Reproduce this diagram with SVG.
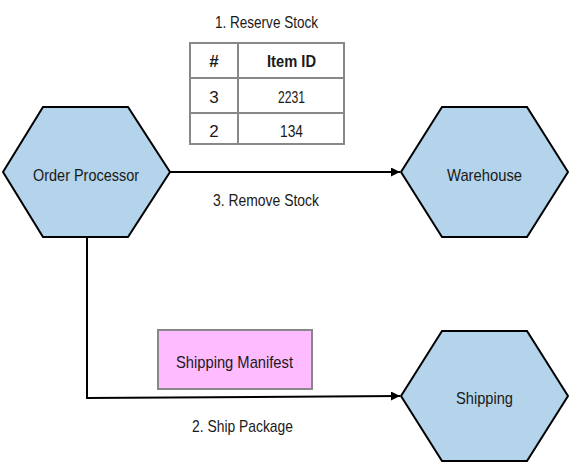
<svg xmlns="http://www.w3.org/2000/svg" width="571" height="463" viewBox="0 0 571 463">
<defs>
<style>
text{font-family:"Liberation Sans",Arial,sans-serif;font-size:17px;fill:#1a1a1a;text-anchor:middle}
.hex{fill:#b3d4ea;stroke:#000;stroke-width:2}
.conn{fill:none;stroke:#000;stroke-width:2}
.tbl{fill:#fff;stroke:#888;stroke-width:2}
.b{font-weight:bold}
</style>
<marker id="arr" viewBox="0 0 10 10" refX="10" refY="5" markerWidth="12" markerHeight="9" markerUnits="userSpaceOnUse" orient="auto">
<path d="M0,0 L10,5 L0,10 z" fill="#000"/>
</marker>
</defs>
<g id="connectors">
<path class="conn" d="M170,172 H400" marker-end="url(#arr)"/>
<path class="conn" d="M87,237 V398 L400,396" marker-end="url(#arr)"/>
<text x="266" y="206" textLength="106" lengthAdjust="spacingAndGlyphs">3. Remove Stock</text>
<text x="242.5" y="432" textLength="101" lengthAdjust="spacingAndGlyphs">2. Ship Package</text>
</g>
<g id="order-processor">
<polygon class="hex" points="3,172 43,107 128,107 170,172 128,237 43,237"/>
<text x="86" y="181" textLength="106" lengthAdjust="spacingAndGlyphs">Order Processor</text>
</g>
<g id="warehouse">
<polygon class="hex" points="401,172 442,107 527,107 568,172 527,237 442,237"/>
<text x="484.5" y="181" textLength="75" lengthAdjust="spacingAndGlyphs">Warehouse</text>
</g>
<g id="shipping">
<polygon class="hex" points="401,396 442,331 527,331 568,396 527,461 442,461"/>
<text x="484.5" y="404" textLength="57" lengthAdjust="spacingAndGlyphs">Shipping</text>
</g>
<g id="shipping-manifest">
<rect x="158" y="330" width="154" height="59" fill="#ffbbff" stroke="#888" stroke-width="2"/>
<text x="234.5" y="368" textLength="117" lengthAdjust="spacingAndGlyphs">Shipping Manifest</text>
</g>
<g id="reserve-stock-table">
<text x="266.5" y="28" textLength="103" lengthAdjust="spacingAndGlyphs">1. Reserve Stock</text>
<rect class="tbl" x="190" y="43" width="154" height="101"/>
<line x1="238" y1="43" x2="238" y2="144" stroke="#888" stroke-width="2"/>
<line x1="190" y1="78" x2="344" y2="78" stroke="#888" stroke-width="2"/>
<line x1="190" y1="113" x2="344" y2="113" stroke="#888" stroke-width="2"/>
<text class="b" x="214" y="67">#</text>
<text class="b" x="291.5" y="67" textLength="49" lengthAdjust="spacingAndGlyphs">Item ID</text>
<text x="214" y="103">3</text>
<text x="291.5" y="103" textLength="27" lengthAdjust="spacingAndGlyphs">2231</text>
<text x="214" y="137">2</text>
<text x="291.5" y="137" textLength="23" lengthAdjust="spacingAndGlyphs">134</text>
</g>
</svg>
